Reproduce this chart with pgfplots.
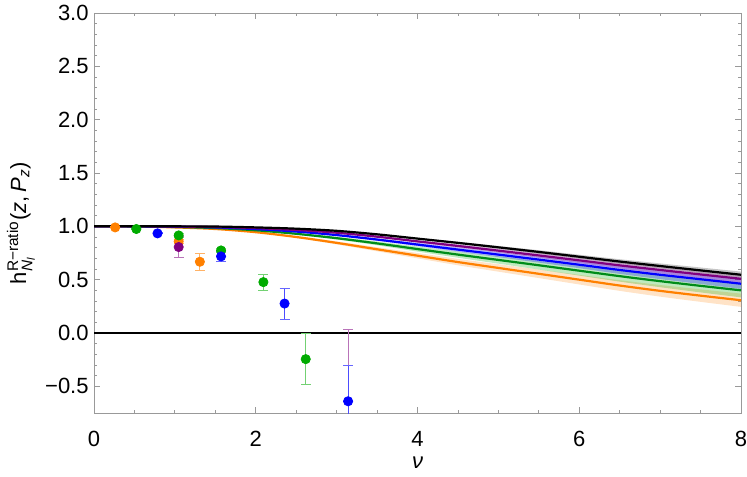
\documentclass[border=0pt]{standalone}
\usepackage{amsmath}
\usepackage{fontspec}
\setmainfont{Liberation Sans}
\usepackage{pgfplots}
\usepackage{pgfplotstable}
\pgfplotsset{compat=1.18}
\usepgfplotslibrary{fillbetween}

\definecolor{mmorange}{rgb}{1,0.5,0}
\definecolor{mmgreen}{rgb}{0,0.67,0}
\definecolor{mmgreenline}{rgb}{0,0.55,0.1}
\definecolor{mmpurple}{rgb}{0.5,0,0.5}
\definecolor{mmblue}{rgb}{0,0,1}
\definecolor{framegray}{gray}{0.6}

\pgfplotstableread{
x y lo hi
0 1 1 1
0.5 1 1 1
1 1 1 1
1.5 0.998 0.998 0.998
2 0.99 0.989 0.991
2.5 0.978 0.9766 0.9794
3 0.958 0.9553 0.9607
3.5 0.925 0.920 0.930
4 0.885 0.8775 0.8925
4.5 0.845 0.835 0.855
5 0.803 0.790 0.816
5.5 0.76 0.744 0.776
6 0.715 0.6965 0.7335
6.5 0.67 0.6485 0.6915
7 0.628 0.604 0.652
7.5 0.587 0.560 0.614
8 0.546 0.5165 0.5755
}\curveblack

\pgfplotstableread{
x y lo hi
0 1 1 1
0.5 1 1 1
1 0.998 0.998 0.998
1.5 0.994 0.9935 0.9945
2 0.983 0.9816 0.9844
2.5 0.966 0.9633 0.9687
3 0.940 0.9352 0.9448
3.5 0.903 0.8952 0.9108
4 0.859 0.8477 0.8703
4.5 0.816 0.8013 0.8307
5 0.772 0.7538 0.7902
5.5 0.727 0.7052 0.7488
6 0.681 0.6555 0.7065
6.5 0.634 0.6047 0.6633
7 0.591 0.5583 0.6237
7.5 0.549 0.5129 0.5851
8 0.508 0.4686 0.5474
}\curvepurple

\pgfplotstableread{
x y lo hi
0 1 1 1
0.5 1 1 1
1 0.9965 0.9962 0.9968
1.5 0.990 0.9891 0.9909
2 0.974 0.9717 0.9763
2.5 0.951 0.9466 0.9554
3 0.918 0.9106 0.9254
3.5 0.876 0.8648 0.8872
4 0.829 0.8136 0.8444
4.5 0.782 0.7624 0.8016
5 0.735 0.7111 0.7589
5.5 0.688 0.6599 0.7161
6 0.640 0.6076 0.6724
6.5 0.591 0.5542 0.6278
7 0.546 0.5051 0.5869
7.5 0.504 0.4594 0.5486
8 0.462 0.4136 0.5104
}\curveblue

\pgfplotstableread{
x y lo hi
0 1 1 1
0.5 0.999 0.999 0.999
1 0.994 0.9933 0.9947
1.5 0.984 0.9822 0.9858
2 0.963 0.9589 0.9671
2.5 0.930 0.9223 0.9377
3 0.889 0.8768 0.9012
3.5 0.840 0.8224 0.8576
4 0.787 0.7636 0.8104
4.5 0.735 0.7058 0.7642
5 0.685 0.6503 0.7197
5.5 0.635 0.5948 0.6752
6 0.584 0.5382 0.6298
6.5 0.533 0.4816 0.5844
7 0.486 0.4295 0.5425
7.5 0.442 0.3806 0.5034
8 0.400 0.334 0.466
}\curvegreen

\pgfplotstableread{
x y lo hi
0 1 1 1
0.5 0.999 0.999 0.999
1 0.99 0.989 0.991
1.5 0.975 0.973 0.977
2 0.945 0.940 0.950
2.5 0.90 0.891 0.909
3 0.845 0.831 0.859
3.5 0.785 0.766 0.804
4 0.725 0.700 0.750
4.5 0.665 0.635 0.695
5 0.61 0.575 0.645
5.5 0.555 0.515 0.595
6 0.50 0.455 0.545
6.5 0.445 0.395 0.495
7 0.395 0.341 0.450
7.5 0.35 0.292 0.409
8 0.307 0.245 0.369
}\curveorange

\begin{document}
\fontsize{11}{13}\selectfont
\begin{tikzpicture}
\begin{axis}[
  scale only axis,
  width=323.5pt, height=200pt,
  xmin=0, xmax=8, ymin=-0.75, ymax=3,
  axis line style={framegray},
  tick style={framegray, line width=0.4pt},
  tick align=inside,
  major tick length=3pt, minor tick length=1.6pt,
  xtick={0,2,4,6,8},
  xticklabels={0,2,4,6,8},
  minor x tick num=3,
  ytick={-0.5,0,0.5,1,1.5,2,2.5,3},
  yticklabels={−0.5,0.0,0.5,1.0,1.5,2.0,2.5,3.0},
  minor y tick num=4,
  tick label style={font=\fontsize{11}{13}\selectfont, text=black},
  xticklabel style={anchor=center, yshift=-13pt},
  yticklabel style={anchor=east, inner sep=0pt, xshift=-2.5pt},
  xlabel={\textit{ν}},
  ylabel={h$^{\text{R−ratio}}_{\textit{N}_{\textit{l}}}$(\textit{z},\,\textit{P}$_{\textit{z}}$)},
  xlabel style={at={(axis description cs:0.5,-0.125)}, anchor=center, font=\fontsize{11}{13}\selectfont},
  ylabel style={at={(axis description cs:-0.113,0.475)}, anchor=center, font=\fontsize{11}{13}\selectfont},
  clip=true,
]
% bands
\addplot[name path=olo, draw=none, smooth, forget plot] table[x=x,y=lo]{\curveorange};
\addplot[name path=ohi, draw=none, smooth, forget plot] table[x=x,y=hi]{\curveorange};
\addplot[mmorange, fill opacity=0.22, draw=none, forget plot] fill between[of=olo and ohi];
\addplot[name path=glo, draw=none, smooth, forget plot] table[x=x,y=lo]{\curvegreen};
\addplot[name path=ghi, draw=none, smooth, forget plot] table[x=x,y=hi]{\curvegreen};
\addplot[mmgreen, fill opacity=0.25, draw=none, forget plot] fill between[of=glo and ghi];
\addplot[name path=blo, draw=none, smooth, forget plot] table[x=x,y=lo]{\curveblue};
\addplot[name path=bhi, draw=none, smooth, forget plot] table[x=x,y=hi]{\curveblue};
\addplot[mmblue, fill opacity=0.28, draw=none, forget plot] fill between[of=blo and bhi];
\addplot[name path=plo, draw=none, smooth, forget plot] table[x=x,y=lo]{\curvepurple};
\addplot[name path=phi, draw=none, smooth, forget plot] table[x=x,y=hi]{\curvepurple};
\addplot[mmpurple, fill opacity=0.28, draw=none, forget plot] fill between[of=plo and phi];
\addplot[name path=klo, draw=none, smooth, forget plot] table[x=x,y=lo]{\curveblack};
\addplot[name path=khi, draw=none, smooth, forget plot] table[x=x,y=hi]{\curveblack};
\addplot[gray, fill opacity=0.45, draw=none, forget plot] fill between[of=klo and khi];
% lines
\addplot[mmorange, line width=1.1pt, smooth] table[x=x,y=y]{\curveorange};
\addplot[mmgreenline, line width=1.1pt, smooth] table[x=x,y=y]{\curvegreen};
\addplot[mmblue, line width=1.1pt, smooth] table[x=x,y=y]{\curveblue};
\addplot[mmpurple, line width=1.1pt, smooth] table[x=x,y=y]{\curvepurple};
\addplot[black, line width=1.1pt, smooth] table[x=x,y=y]{\curveblack};
% zero line
\addplot[black, line width=0.8pt] coordinates {(0,0) (8,0)};
% data points
\addplot[only marks, mark=*, mark size=2.3pt, color=mmorange,
  error bars/.cd, y dir=both, y explicit,
  error bar style={mmorange!60, line width=0.5pt},
  error mark options={rotate=90, mark size=2.5pt, mmorange!60, line width=0.5pt}]
  coordinates {(0.2618,0.99) +- (0,0.005) (1.0472,0.859) +- (0,0.02) (1.309,0.668) += (0,0.082) -= (0,0.078)};
\addplot[only marks, mark=*, mark size=2.3pt, color=mmgreen,
  error bars/.cd, y dir=both, y explicit,
  error bar style={mmgreen!55, line width=0.5pt},
  error mark options={rotate=90, mark size=2.5pt, mmgreen!55, line width=0.5pt}]
  coordinates {(0.5236,0.975) +- (0,0.005) (1.0472,0.915) +- (0,0.015) (1.5708,0.774) +- (0,0.02) (2.0944,0.477) +- (0,0.075) (2.618,-0.245) +- (0,0.24)};
\addplot[only marks, mark=*, mark size=2.3pt, color=mmpurple,
  error bars/.cd, y dir=both, y explicit,
  error bar style={mmpurple!55, line width=0.5pt},
  error mark options={rotate=90, mark size=2.5pt, mmpurple!55, line width=0.5pt}]
  coordinates {(1.0472,0.806) +- (0,0.10) (3.1416,-1.3) +- (0,1.33)};
\addplot[only marks, mark=*, mark size=2.3pt, color=mmblue,
  error bars/.cd, y dir=both, y explicit,
  error bar style={mmblue!70, line width=0.5pt},
  error mark options={rotate=90, mark size=2.5pt, mmblue!60, line width=0.5pt}]
  coordinates {(0.7854,0.934) +- (0,0.005) (1.5708,0.718) +- (0,0.05) (2.3562,0.276) +- (0,0.145) (3.1416,-0.64) +- (0,0.34)};
\end{axis}
\pgfresetboundingbox
\path[use as bounding box] (current axis.south west) ++(-47pt,-31.5pt) rectangle ([xshift=3pt,yshift=6.5pt]current axis.north east);
\end{tikzpicture}
\end{document}
